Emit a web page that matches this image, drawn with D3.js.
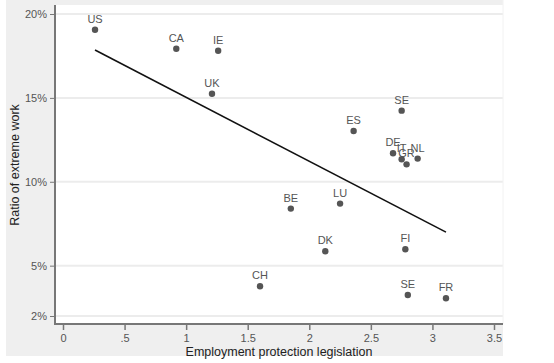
<!DOCTYPE html>
<html><head><meta charset="utf-8">
<script src="https://cdn.jsdelivr.net/npm/d3@7"></script>
<style>body{margin:0;background:#fff}svg{display:block}text{font-family:"Liberation Sans",Arial,sans-serif}</style>
</head><body>
<script>
const countries = ["US","CA","IE","UK","SE","ES","DE","IT","GR","NL","BE","LU","DK","FI","CH","SE","FR"];
const epl =       [0.26,0.92,1.26,1.21,2.75,2.36,2.68,2.75,2.79,2.88,1.85,2.25,2.13,2.78,1.60,2.80,3.11];
const extreme =   [19.06,17.93,17.81,15.25,14.24,13.03,11.70,11.34,11.04,11.38,8.40,8.70,5.86,5.98,3.77,3.25,3.06];
const fitX = [0.26, 3.11];
const fitY = [17.85, 7.0];
const xTicks = [0,0.5,1,1.5,2,2.5,3,3.5];
const xTickLabels = ["0",".5","1","1.5","2","2.5","3","3.5"];
const yTicks = [2,5,10,15,20];
const yTickLabels = ["2%","5%","10%","15%","20%"];

const W=554,H=363;
const svg=d3.select("body").append("svg").attr("width",W).attr("height",H);
// graph region
svg.append("rect").attr("x",6).attr("y",0).attr("width",497).attr("height",356).attr("fill","#efefef");
const pl=55,pr=503,pt=5,pb=324;
svg.append("rect").attr("x",pl).attr("y",pt).attr("width",pr-pl).attr("height",pb-pt).attr("fill","#fff");

const x=d3.scaleLinear().domain([0,3.5]).range([63,494]);
const y=d3.scaleLinear().domain([2,20]).range([316,14]);

// gridlines
svg.append("g").selectAll("line").data(yTicks).join("line")
  .attr("x1",pl).attr("x2",pr).attr("y1",d=>y(d)).attr("y2",d=>y(d))
  .attr("stroke","#ececec").attr("stroke-width",2);
svg.append("line").attr("x1",pr).attr("x2",pr).attr("y1",0).attr("y2",pb).attr("stroke","#f2f2f2").attr("stroke-width",1);

// axes
const yAxis=d3.axisLeft(y).tickValues(yTicks).tickFormat((d,i)=>yTickLabels[i]).tickSize(5).tickPadding(3);
const gy=svg.append("g").attr("transform",`translate(${pl},0)`).call(yAxis);
gy.select(".domain").remove();
gy.selectAll("line").attr("stroke","#777");
gy.selectAll("text").attr("fill","#555").attr("font-size",11);
svg.append("line").attr("x1",pl).attr("x2",pl).attr("y1",pt).attr("y2",pb+1).attr("stroke","#777").attr("stroke-width",2);

const xAxis=d3.axisBottom(x).tickValues(xTicks).tickFormat((d,i)=>xTickLabels[i]).tickSize(6).tickPadding(4);
const gx=svg.append("g").attr("transform",`translate(0,${pb})`).call(xAxis);
gx.select(".domain").remove();
gx.selectAll("line").attr("stroke","#777").attr("stroke-width",1.5);
gx.selectAll("text").attr("fill","#555").attr("font-size",11);
svg.append("line").attr("x1",pl-1).attr("x2",pr).attr("y1",pb).attr("y2",pb).attr("stroke","#777").attr("stroke-width",2);

// fit line
svg.append("path").datum(fitX.map((v,i)=>[v,fitY[i]]))
  .attr("d",d3.line().x(d=>x(d[0])).y(d=>y(d[1])))
  .attr("stroke","#111").attr("stroke-width",1.6).attr("fill","none");

// points
const data=countries.map((c,i)=>({c,x:epl[i],y:extreme[i]}));
svg.append("g").selectAll("circle").data(data).join("circle")
  .attr("cx",d=>x(d.x)).attr("cy",d=>y(d.y)).attr("r",3.2).attr("fill","#555");
svg.append("g").selectAll("text").data(data).join("text")
  .attr("x",d=>x(d.x)).attr("y",d=>y(d.y)-7).attr("text-anchor","middle")
  .attr("font-size",11).attr("fill","#555").text(d=>d.c);

// axis titles
svg.append("text").attr("x",279).attr("y",356).attr("text-anchor","middle")
  .attr("font-size",12.5).attr("fill","#222").text("Employment protection legislation");
svg.append("text").attr("transform","translate(19,165) rotate(-90)").attr("text-anchor","middle")
  .attr("font-size",12.5).attr("fill","#222").text("Ratio of extreme work");
</script>
</body></html>
